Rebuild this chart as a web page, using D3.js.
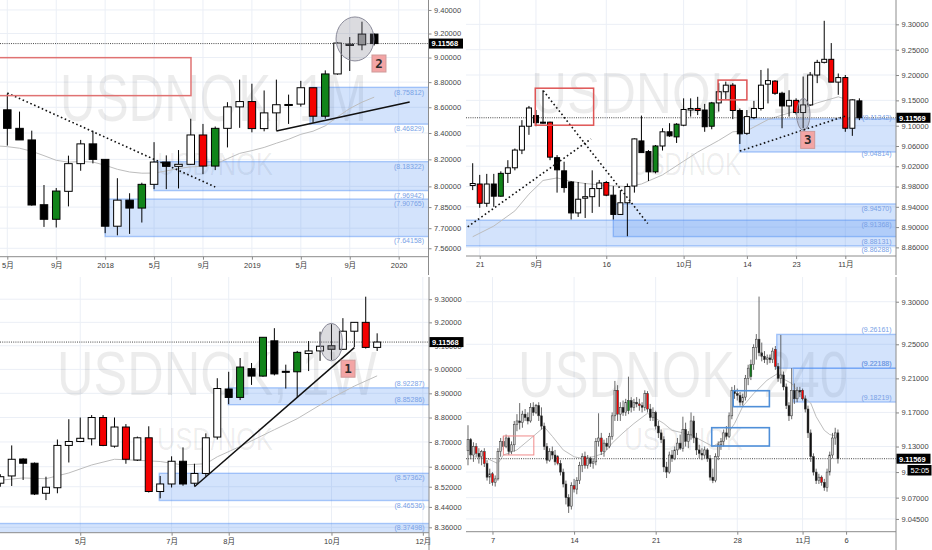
<!DOCTYPE html>
<html><head><meta charset="utf-8">
<script src="https://cdn.jsdelivr.net/npm/d3@7/dist/d3.min.js"></script>
<style>
html,body{margin:0;padding:0;background:#fff;overflow:hidden;}
svg{display:block;}
</style></head><body>
<svg id="chart" width="932" height="550"></svg>
<script>
// ================= DATA =================
// ---- Panel 1: USDNOK monthly, 2017-05 .. 2019-11 (index 0..30)
const p1Open  = [8.580,8.436,8.347,7.867,7.763,7.964,8.168,8.317,8.200,7.714,
                 7.900,7.843,8.015,8.180,8.148,8.163,8.385,8.150,8.436,8.603,
                 8.645,8.434,8.556,8.618,8.625,8.755,8.530,8.866,9.100,9.105,9.195];
const p1High  = [8.707,8.566,8.418,8.010,7.988,8.228,8.347,8.418,8.200,8.060,
                 7.950,8.027,8.330,8.230,8.270,8.510,8.470,8.450,8.640,8.820,
                 8.787,8.733,8.820,8.700,8.810,8.755,8.895,9.125,9.170,9.300,9.200];
const p1Low   = [8.304,8.347,7.860,7.709,7.705,7.855,8.115,8.170,7.665,7.650,
                 7.660,7.740,7.980,7.980,7.985,8.160,8.090,8.120,8.290,8.440,
                 8.405,8.413,8.418,8.470,8.605,8.480,8.510,8.860,8.890,9.060,9.100];
const p1Close = [8.436,8.347,7.865,7.763,7.966,8.168,8.317,8.200,7.714,7.900,
                 7.843,8.015,8.180,8.148,8.163,8.385,8.150,8.436,8.603,8.645,
                 8.434,8.556,8.620,8.622,8.755,8.530,8.866,9.120,9.110,9.195,9.1157];
const p1Red = [16,20,25], p1Green = [4,11,17,26], p1Gray = [28,29];
const p1MaIdx = [-0.6,0,1,2,3,4,5,6,7,8,9,10,11,12,13,14,15,16,17,18,19,20,21,22,23,24,25,26,27,28,29,30];
const p1MaVal = [8.300,8.296,8.284,8.261,8.228,8.193,8.179,8.184,8.180,8.156,8.126,8.106,8.097,8.098,8.114,8.132,
                 8.144,8.148,8.163,8.205,8.245,8.266,8.290,8.322,8.352,8.390,8.414,8.455,8.525,8.590,8.640,8.680];
const p1YTicks = [9.40,9.20,9.00,8.80,8.60,8.40,8.20,8.00,7.85,7.70,7.56];
const p1XTicks = [0,4,8,12,16,20,24,28,32];
const p1XLabels = ["5月","9月","2018","5月","9月","2019","5月","9月","2020"];
const p1Last = 9.11568;
const p1Zones = [[8.75812,8.46829,24.75],[8.18322,7.96942,12],[7.90765,7.64158,8]];

// ---- Panel 2: USDNOK daily, 2019-08-20 .. 2019-11-05 (index 0..55)
const p2Open  = [8.982,8.985,8.947,8.985,8.961,9.006,9.017,9.052,9.099,9.120,
                 9.107,9.107,9.037,9.011,8.989,8.928,8.957,8.960,8.976,8.988,
                 8.963,8.925,8.948,8.981,9.070,9.049,9.009,9.060,9.088,9.078,
                 9.101,9.131,9.134,9.131,9.099,9.145,9.167,9.180,9.130,9.085,
                 9.116,9.134,9.182,9.188,9.164,9.139,9.150,9.126,9.141,9.200,
                 9.225,9.231,9.186,9.195,9.095,9.149];
const p2High  = [9.026,9.003,9.005,9.005,9.010,9.032,9.055,9.111,9.139,9.131,
                 9.170,9.108,9.042,9.029,8.991,8.989,8.987,9.012,8.993,8.991,
                 8.981,8.973,8.986,9.075,9.120,9.052,9.062,9.095,9.105,9.105,
                 9.154,9.154,9.157,9.143,9.147,9.184,9.187,9.184,9.134,9.131,
                 9.149,9.210,9.213,9.190,9.167,9.170,9.154,9.197,9.206,9.230,
                 9.307,9.263,9.203,9.200,9.152,9.154];
const p2Low   = [8.973,8.938,8.940,8.940,8.960,8.987,9.012,9.044,9.082,9.099,
                 9.104,9.032,8.968,8.968,8.915,8.920,8.918,8.928,8.940,8.961,
                 8.915,8.924,8.882,8.968,9.047,8.991,9.006,9.051,9.078,9.066,
                 9.099,9.118,9.121,9.088,9.093,9.128,9.152,9.113,9.064,9.082,
                 9.113,9.130,9.144,9.161,9.095,9.118,9.122,9.095,9.139,9.184,
                 9.223,9.186,9.161,9.088,9.080,9.111];
const p2Close = [8.986,8.947,8.985,8.961,9.006,9.017,9.052,9.099,9.135,9.106,
                 9.105,9.038,9.013,8.978,8.928,8.955,8.960,8.976,8.987,8.963,
                 8.925,8.948,8.980,9.074,9.047,9.009,9.060,9.088,9.080,9.103,
                 9.132,9.134,9.130,9.098,9.145,9.167,9.180,9.130,9.084,9.118,
                 9.134,9.180,9.189,9.164,9.139,9.150,9.126,9.141,9.200,9.225,
                 9.231,9.186,9.195,9.095,9.151,9.1157];
const p2Red = [1,11,19,32,37,43,46,51,53], p2Green = [4,26,29,34], p2Gray = [];
const p2MaIdx = [0,3,6,8,10,12,14,16,19,22,24,27,30,32,35,37,39,42,44,46,49,52,54];
const p2MaVal = [8.881,8.902,8.932,8.965,8.992,8.997,8.990,8.986,8.982,8.980,8.985,9.003,9.030,9.048,
                 9.071,9.088,9.090,9.112,9.121,9.129,9.145,9.157,9.148];
const p2YTicks = [9.30,9.25,9.20,9.15,9.10,9.06,9.02,8.98,8.94,8.90,8.86];
const p2XTicks = [1,9,19,30,39,46,53];
const p2XLabels = ["21","9月","16","10月","14","23","11月"];
const p2Last = 9.11569;
const p2Zones = [[9.11342,9.04814,37.95],[8.94570,8.88131,20.0],[8.91368,8.86288,-2]];

// ---- Panel 3: USDNOK weekly, 2019-03-18 .. 2019-11-04 (index 0..33)
const p3Open  = [8.534,8.563,8.631,8.614,8.494,8.516,8.686,8.702,8.713,8.800,
                 8.683,8.761,8.627,8.717,8.501,8.531,8.622,8.534,8.573,8.720,
                 8.918,8.883,9.003,8.972,9.121,8.992,8.990,9.067,9.078,9.085,
                 9.085,9.162,9.200,9.093];
const p3High  = [8.570,8.686,8.634,8.617,8.560,8.710,8.793,8.800,8.810,8.810,
                 8.800,8.773,8.722,8.764,8.563,8.642,8.678,8.612,8.735,8.963,
                 8.990,9.048,9.027,9.136,9.175,9.020,9.078,9.120,9.160,9.192,
                 9.218,9.200,9.311,9.153];
const p3Low   = [8.520,8.523,8.547,8.487,8.467,8.494,8.617,8.699,8.686,8.683,
                 8.677,8.612,8.623,8.497,8.474,8.517,8.524,8.523,8.560,8.710,
                 8.855,8.872,8.935,8.969,8.975,8.920,8.882,8.993,9.036,9.040,
                 9.082,9.094,9.088,9.078];
const p3Close = [8.560,8.630,8.614,8.491,8.518,8.686,8.702,8.715,8.800,8.686,
                 8.761,8.630,8.717,8.501,8.531,8.622,8.531,8.573,8.717,8.920,
                 8.883,9.010,8.972,9.136,8.981,8.988,9.072,9.078,9.098,9.100,
                 9.162,9.200,9.093,9.1157];
const p3Red = [9,11,13,32], p3Green = [21,23,26], p3Gray = [29];
const p3MaIdx = [0,2,4,6,8,10,12,14,16,18,19,21,24,26,29,31,33];
const p3MaVal = [8.546,8.555,8.552,8.575,8.607,8.630,8.626,8.621,8.607,8.612,8.640,8.682,8.750,8.795,8.880,8.930,8.973];
const p3YTicks = [9.30,9.20,9.10,9.00,8.90,8.80,8.70,8.60,8.52,8.44,8.36];
const p3XTicks = [7,15,20,29,37];
const p3XLabels = ["5月","7月","8月","10月","12月"];
const p3Last = 9.11568;
const p3Zones = [[8.92287,8.85286,19.96],[8.57362,8.46536,13.92],[8.37498,8.20,-2]];

// ---- Panel 4: USDNOK 4-hour bars, ~2019-10-04 .. 2019-11-05 (index 0..136)
const p4Open  = [9.125,9.138,9.120,9.130,9.122,9.118,9.124,9.110,9.094,9.098,
                 9.088,9.092,9.124,9.136,9.130,9.140,9.124,9.132,9.156,9.160,
                 9.158,9.168,9.164,9.160,9.176,9.170,9.178,9.166,9.154,9.130,
                 9.114,9.124,9.120,9.118,9.110,9.100,9.086,9.070,9.060,9.084,
                 9.080,9.090,9.108,9.118,9.108,9.116,9.110,9.112,9.136,9.140,
                 9.124,9.134,9.130,9.142,9.166,9.196,9.168,9.176,9.170,9.172,
                 9.184,9.176,9.182,9.180,9.178,9.176,9.192,9.174,9.164,9.170,
                 9.154,9.146,9.138,9.106,9.100,9.120,9.116,9.126,9.134,9.128,
                 9.150,9.136,9.144,9.160,9.140,9.126,9.122,9.120,9.126,9.116,
                 9.094,9.090,9.118,9.132,9.136,9.146,9.142,9.166,9.196,9.192,
                 9.190,9.182,9.188,9.210,9.212,9.226,9.246,9.256,9.240,9.236,
                 9.232,9.234,9.232,9.244,9.224,9.210,9.214,9.200,9.178,9.166,
                 9.196,9.186,9.196,9.196,9.186,9.174,9.146,9.118,9.100,9.090,
                 9.094,9.088,9.082,9.100,9.120,9.140,9.146];
const p4High  = [9.155,9.140,9.135,9.134,9.128,9.126,9.128,9.114,9.104,9.100,
                 9.096,9.128,9.140,9.142,9.144,9.142,9.136,9.160,9.168,9.181,
                 9.172,9.174,9.170,9.181,9.182,9.180,9.182,9.176,9.158,9.134,
                 9.128,9.130,9.126,9.120,9.114,9.104,9.090,9.074,9.088,9.092,
                 9.094,9.112,9.122,9.124,9.120,9.118,9.116,9.140,9.169,9.146,
                 9.138,9.140,9.146,9.170,9.207,9.202,9.182,9.184,9.186,9.212,
                 9.188,9.186,9.188,9.186,9.182,9.196,9.195,9.180,9.176,9.172,
                 9.160,9.150,9.142,9.112,9.124,9.126,9.130,9.140,9.144,9.165,
                 9.158,9.148,9.170,9.166,9.146,9.132,9.128,9.130,9.128,9.120,
                 9.104,9.122,9.136,9.140,9.150,9.154,9.170,9.200,9.202,9.198,
                 9.194,9.192,9.214,9.226,9.232,9.250,9.262,9.306,9.252,9.242,
                 9.238,9.238,9.246,9.248,9.228,9.261,9.218,9.204,9.182,9.222,
                 9.204,9.200,9.200,9.198,9.190,9.178,9.150,9.122,9.104,9.098,
                 9.096,9.092,9.104,9.124,9.146,9.152,9.150];
const p4Low   = [9.108,9.115,9.112,9.118,9.110,9.108,9.106,9.090,9.086,9.084,
                 9.083,9.090,9.118,9.126,9.128,9.120,9.121,9.124,9.148,9.150,
                 9.152,9.160,9.156,9.158,9.166,9.168,9.160,9.150,9.126,9.110,
                 9.112,9.116,9.108,9.108,9.096,9.082,9.062,9.052,9.056,9.076,
                 9.074,9.086,9.100,9.104,9.104,9.106,9.104,9.108,9.130,9.120,
                 9.118,9.126,9.128,9.138,9.160,9.160,9.160,9.166,9.166,9.168,
                 9.170,9.172,9.176,9.172,9.170,9.172,9.170,9.160,9.160,9.150,
                 9.140,9.134,9.100,9.093,9.098,9.112,9.114,9.120,9.126,9.124,
                 9.130,9.128,9.138,9.134,9.120,9.116,9.114,9.116,9.112,9.090,
                 9.087,9.088,9.114,9.126,9.130,9.138,9.140,9.162,9.186,9.184,
                 9.178,9.178,9.184,9.202,9.208,9.220,9.232,9.236,9.230,9.228,
                 9.226,9.228,9.228,9.220,9.206,9.204,9.196,9.174,9.160,9.162,
                 9.180,9.182,9.188,9.184,9.170,9.140,9.112,9.096,9.086,9.086,
                 9.084,9.078,9.077,9.096,9.116,9.132,9.110];
const p4Close = [9.138,9.120,9.130,9.122,9.118,9.124,9.110,9.094,9.098,9.088,
                 9.092,9.124,9.136,9.130,9.140,9.124,9.132,9.156,9.160,9.158,
                 9.168,9.164,9.160,9.176,9.170,9.178,9.166,9.154,9.130,9.114,
                 9.124,9.120,9.112,9.110,9.100,9.086,9.070,9.060,9.084,9.080,
                 9.090,9.108,9.118,9.108,9.116,9.110,9.112,9.136,9.140,9.124,
                 9.134,9.130,9.142,9.166,9.196,9.168,9.176,9.170,9.182,9.184,
                 9.176,9.182,9.180,9.178,9.176,9.192,9.174,9.164,9.170,9.154,
                 9.146,9.138,9.106,9.100,9.120,9.116,9.126,9.134,9.128,9.150,
                 9.136,9.144,9.160,9.140,9.126,9.122,9.120,9.126,9.116,9.094,
                 9.090,9.118,9.132,9.136,9.146,9.142,9.166,9.196,9.192,9.190,
                 9.182,9.188,9.210,9.222,9.226,9.246,9.256,9.240,9.236,9.232,
                 9.234,9.232,9.242,9.224,9.210,9.214,9.200,9.178,9.166,9.196,
                 9.186,9.196,9.194,9.186,9.174,9.146,9.118,9.100,9.090,9.094,
                 9.088,9.082,9.100,9.120,9.140,9.146,9.1157];
const p4Red = [3,6,9,33,39,43,49,55,63,66,113,123,130], p4Green = [59,104], p4Gray = [];
const p4MaIdx = [2,7,11,13,18,24,28,31,35,39,42,46,50,53,57,61,66,68,72,75,79,83,90,94,98,101,105,110,114,115,119,122,126,128,131,133,136];
const p4MaVal = [9.118,9.116,9.110,9.120,9.126,9.142,9.153,9.142,9.126,9.118,9.116,9.118,9.122,9.134,9.146,9.157,
                 9.169,9.165,9.157,9.149,9.146,9.142,9.130,9.138,9.157,9.177,9.192,9.208,9.216,9.211,9.204,9.192,
                 9.181,9.165,9.149,9.144,9.142];
const p4YTicks = [9.30,9.25,9.21,9.17,9.13,9.10,9.07,9.045];
const p4XTicks = [9,39,69,99,123,139];
const p4XLabels = ["7","14","21","28","11月","6"];
const p4Last = 9.11569;
const p4Zones = [[9.26161,9.22188,113.5],[9.22188,9.18219,119.6]];

// ================= DRAWING =================
const FONT = '"Liberation Sans","Noto Sans CJK SC",Arial,sans-serif';
const svg = d3.select("#chart");
svg.append("rect").attr("width", 932).attr("height", 550).attr("fill", "#fff");
const fmt5 = d3.format(".5f");

function drawPanel(P) {
  const root = svg.append("g");
  const cid = "clip-" + P.id;
  root.append("clipPath").attr("id", cid).append("rect")
    .attr("x", P.left).attr("y", P.top)
    .attr("width", P.right - P.left).attr("height", P.bottom - P.top);
  const g = root.append("g").attr("clip-path", `url(#${cid})`);

  // grid
  g.selectAll(null).data(P.yTicks).join("line")
    .attr("x1", P.left).attr("x2", P.right)
    .attr("y1", d => P.y(d)).attr("y2", d => P.y(d))
    .attr("stroke", "#ebeff6").attr("stroke-width", 1);
  g.selectAll(null).data(P.xTicks).join("line")
    .attr("x1", d => P.x(d)).attr("x2", d => P.x(d))
    .attr("y1", P.top).attr("y2", P.bottom)
    .attr("stroke", "#ebeff6").attr("stroke-width", 1);

  // watermark
  P.watermark.forEach(w => {
    g.append("text").attr("x", w.x).attr("y", w.y)
      .attr("font-size", w.size).attr("font-family", FONT)
      .attr("textLength", w.len).attr("lengthAdjust", "spacingAndGlyphs")
      .attr("fill", "#000").attr("fill-opacity", 0.075).text(w.text);
  });

  // zones
  P.zones.forEach(z => {
    const x0 = P.x(z[2]);
    g.append("rect").attr("x", x0).attr("y", P.y(z[0]))
      .attr("width", P.right - x0 + 5).attr("height", P.y(z[1]) - P.y(z[0]))
      .attr("fill", "rgba(66,133,244,0.23)")
      .attr("stroke", "rgba(66,133,244,0.42)").attr("stroke-width", 1.4);
  });

  // moving average
  const ma = d3.zip(P.maIdx, P.maVal);
  g.append("path").datum(ma)
    .attr("d", d3.line().x(d => P.x(d[0])).y(d => P.y(d[1])))
    .attr("fill", "none").attr("stroke", "#bdbdbd").attr("stroke-width", 1);

  // last price line
  g.append("line").attr("x1", P.left).attr("x2", P.right)
    .attr("y1", P.y(P.last)).attr("y2", P.y(P.last))
    .attr("stroke", "#333").attr("stroke-width", 0.9).attr("stroke-dasharray", "1,1.2");

  // candles
  const idx = d3.range(P.open.length);
  const mark = i => P.red.includes(i) ? "r" : P.green.includes(i) ? "g" : P.gray.includes(i) ? "e" : "";
  const fillOf = i => {
    const m = mark(i);
    if (m === "r") return "#f40000";
    if (m === "g") return "#11841a";
    if (m === "e") return "#9a9a9a";
    return P.close[i] >= P.open[i] ? P.bullFill : P.bearFill;
  };
  g.selectAll(null).data(idx).join("line")
    .attr("x1", i => P.x(i)).attr("x2", i => P.x(i))
    .attr("y1", i => P.y(P.high[i])).attr("y2", i => P.y(P.low[i]))
    .attr("stroke", P.wickColor).attr("stroke-width", P.wickW);
  g.selectAll(null).data(idx).join("rect")
    .attr("x", i => P.x(i) - P.bodyW / 2)
    .attr("y", i => P.y(Math.max(P.open[i], P.close[i])))
    .attr("width", P.bodyW)
    .attr("height", i => Math.max(1, Math.abs(P.y(P.open[i]) - P.y(P.close[i]))))
    .attr("fill", fillOf)
    .attr("stroke", P.bodyStroke).attr("stroke-width", P.bodyStrokeW);

  // ellipse highlight
  if (P.ellipse) {
    const e = P.ellipse;
    g.append("ellipse").attr("cx", P.x(e.idx))
      .attr("cy", (P.y(e.top) + P.y(e.bottom)) / 2)
      .attr("rx", P.x(e.idx + e.half) - P.x(e.idx))
      .attr("ry", (P.y(e.bottom) - P.y(e.top)) / 2)
      .attr("fill", "rgba(125,125,140,0.28)").attr("stroke", "#8a8a99").attr("stroke-width", 1);
  }

  // trend lines
  (P.lines || []).forEach(l => {
    g.append("line").attr("x1", P.x(l.a[0])).attr("y1", P.y(l.a[1]))
      .attr("x2", P.x(l.b[0])).attr("y2", P.y(l.b[1]))
      .attr("stroke", "#111").attr("stroke-width", l.dotted ? 1.6 : 1.5)
      .attr("stroke-dasharray", l.dotted ? "1.6,2.6" : null);
  });

  // rectangles
  (P.rects || []).forEach(r => {
    g.append("rect").attr("x", P.x(r.i0)).attr("y", P.y(r.p0))
      .attr("width", P.x(r.i1) - P.x(r.i0)).attr("height", P.y(r.p1) - P.y(r.p0))
      .attr("fill", "none").attr("stroke", r.color).attr("stroke-width", r.w);
  });

  // badge
  if (P.badge) {
    const b = P.badge, cx = P.x(b.idx), cy = P.y(b.price);
    g.append("rect").attr("x", cx - 7).attr("y", cy - 8.5).attr("width", 14).attr("height", 17)
      .attr("fill", "#f3a5a5").attr("stroke", "#cf9a9a").attr("stroke-width", 1);
    g.append("text").attr("x", cx).attr("y", cy + 4.5).attr("text-anchor", "middle")
      .attr("font-size", 12.5).attr("font-weight", "bold").attr("font-family", "DejaVu Sans Mono, monospace")
      .attr("fill", "#2a2a2a").text(b.text);
  }

  // zone labels
  P.zoneLabels.forEach(zl => {
    g.append("text").attr("x", P.right - 4.5).attr("y", P.y(zl.v) + zl.dy)
      .attr("text-anchor", "end").attr("font-size", 7).attr("font-family", FONT)
      .attr("fill", "#78a1e6").text("(" + fmt5(zl.v) + ")");
  });

  // right axis
  const ya = d3.axisRight(P.y).tickValues(P.yTicks).tickFormat(fmt5)
    .tickSize(3).tickSizeOuter(0).tickPadding(2.5);
  const yg = root.append("g").attr("transform", `translate(${P.right},0)`).call(ya);
  yg.select(".domain").remove();
  yg.selectAll(".tick line").attr("stroke", "#888");
  yg.selectAll(".tick text").attr("font-size", 7.5).attr("font-family", FONT).attr("fill", "#474747");

  // bottom axis
  const xa = d3.axisBottom(P.x).tickValues(P.xTicks).tickFormat((d, i) => P.xLabels[i])
    .tickSize(3).tickSizeOuter(0).tickPadding(3);
  const xg = root.append("g").attr("transform", `translate(0,${P.bottom})`).call(xa);
  xg.select(".domain").remove();
  xg.selectAll(".tick line").attr("stroke", "#888");
  xg.selectAll(".tick text").attr("font-size", 7.5).attr("font-family", FONT).attr("fill", "#3a3a3a");

  // axis lines
  root.append("line").attr("x1", P.right).attr("x2", P.right).attr("y1", P.top).attr("y2", P.axisEnd)
    .attr("stroke", "#8c8c8c").attr("stroke-width", 1);
  root.append("line").attr("x1", P.left).attr("x2", P.right).attr("y1", P.bottom).attr("y2", P.bottom)
    .attr("stroke", "#8c8c8c").attr("stroke-width", 1);

  // price box
  const py = P.y(P.last);
  root.append("rect").attr("x", P.right + 0.5).attr("y", py - 5).attr("width", 34).attr("height", 10)
    .attr("fill", "#000");
  root.append("text").attr("x", P.right + 3).attr("y", py + 2.8)
    .attr("font-size", 7.5).attr("font-weight", "bold").attr("font-family", FONT)
    .attr("fill", "#fff").text(fmt5(P.last));
  if (P.countdown) {
    root.append("rect").attr("x", P.right + 11.5).attr("y", py + 6.3).attr("width", 24).attr("height", 10.5)
      .attr("fill", "#000");
    root.append("text").attr("x", P.right + 14.5).attr("y", py + 14.2)
      .attr("font-size", 7.5).attr("font-family", FONT).attr("fill", "#fff").text(P.countdown);
  }
}

// ---------- Panel 1 (monthly) ----------
const p1x = d3.scaleLinear().domain([-0.597, 34.44]).range([0, 428.5]);
const p1y = d3.scaleLog().domain([7.502, 9.486]).range([256.7, 0]);
drawPanel({
  id: "p1", x: p1x, y: p1y, left: 0, right: 428.5, top: 0, bottom: 256.7, axisEnd: 275,
  open: p1Open, high: p1High, low: p1Low, close: p1Close,
  red: p1Red, green: p1Green, gray: p1Gray,
  bullFill: "#fff", bearFill: "#000", wickColor: "#000", wickW: 1, bodyW: 7.5, bodyStroke: "#000", bodyStrokeW: 1,
  maIdx: p1MaIdx, maVal: p1MaVal, yTicks: p1YTicks, xTicks: p1XTicks, xLabels: p1XLabels, last: p1Last,
  zones: p1Zones,
  zoneLabels: [{v:8.75812,dy:7.5},{v:8.46829,dy:7.3},{v:8.18322,dy:7.5},{v:7.96942,dy:7},{v:7.90765,dy:6.8},{v:7.64158,dy:6.8}],
  watermark: [{text:"USDNOK, 1M", x:60, y:121, size:66, len:307},{text:"USD/NOK", x:157, y:175, size:32, len:116}],
  ellipse: {idx: 28.43, half: 1.55, top: 9.34, bottom: 8.972},
  lines: [{a:[0,8.713], b:[17,7.996], dotted:true},{a:[22,8.416], b:[32.9,8.642], dotted:false}],
  rects: [{i0:-2, i1:15.02, p0:8.999, p1:8.692, color:"#e07272", w:1.5}],
  badge: {idx: 30.39, price: 8.951, text: "2"}
});

// ---------- Panel 2 (daily) ----------
const p2x = d3.scaleLinear().domain([-0.953, 60.21]).range([466, 896]);
const p2y = d3.scaleLinear().domain([8.843, 9.348]).range([256, 0]);
drawPanel({
  id: "p2", x: p2x, y: p2y, left: 466, right: 896, top: 0, bottom: 256, axisEnd: 275,
  open: p2Open, high: p2High, low: p2Low, close: p2Close,
  red: p2Red, green: p2Green, gray: p2Gray,
  bullFill: "#fff", bearFill: "#000", wickColor: "#000", wickW: 1, bodyW: 5, bodyStroke: "#000", bodyStrokeW: 1,
  maIdx: p2MaIdx, maVal: p2MaVal, yTicks: p2YTicks, xTicks: p2XTicks, xLabels: p2XLabels, last: p2Last,
  zones: p2Zones,
  zoneLabels: [{v:9.11342,dy:1},{v:9.04814,dy:3.5},{v:8.94570,dy:7},{v:8.91368,dy:7},{v:8.88131,dy:7},{v:8.86288,dy:6.5}],
  watermark: [{text:"USDNOK, 1D", x:531, y:113, size:58, len:304},{text:"USD/NOK", x:631, y:175, size:32, len:110}],
  ellipse: {idx: 47.03, half: 0.95, top: 9.154, bottom: 9.091},
  lines: [{a:[10.04,9.169], b:[24.9,8.907], dotted:true},
          {a:[-0.71,8.9006], b:[16.83,9.074], dotted:true},
          {a:[38.0,9.050], b:[53.2,9.120], dotted:true}],
  rects: [{i0:8.9, i1:17.2, p0:9.174, p1:9.101, color:"#df5555", w:1.5},
          {i0:34.9, i1:39.0, p0:9.190, p1:9.151, color:"#df5555", w:1.5}],
  badge: {idx: 47.65, price: 9.072, text: "3"}
});

// ---------- Panel 3 (weekly) ----------
const p3x = d3.scaleLinear().domain([-0.026, 37.54]).range([0, 429]);
const p3y = d3.scaleLog().domain([8.339, 9.397]).range([532.7, 277]);
drawPanel({
  id: "p3", x: p3x, y: p3y, left: 0, right: 429, top: 277, bottom: 532.7, axisEnd: 550,
  open: p3Open, high: p3High, low: p3Low, close: p3Close,
  red: p3Red, green: p3Green, gray: p3Gray,
  bullFill: "#fff", bearFill: "#000", wickColor: "#000", wickW: 1, bodyW: 7, bodyStroke: "#000", bodyStrokeW: 1,
  maIdx: p3MaIdx, maVal: p3MaVal, yTicks: p3YTicks, xTicks: p3XTicks, xLabels: p3XLabels, last: p3Last,
  zones: p3Zones,
  zoneLabels: [{v:8.92287,dy:-2},{v:8.85286,dy:-2.2},{v:8.57362,dy:7},{v:8.46536,dy:7},{v:8.37498,dy:6.5}],
  watermark: [{text:"USDNOK, 1W", x:57, y:395, size:63, len:320},{text:"USD/NOK", x:157, y:450, size:32, len:116}],
  ellipse: {idx: 28.98, half: 0.99, top: 9.196, bottom: 9.036},
  lines: [{a:[17.0,8.52], b:[31.0,9.092], dotted:false}],
  rects: [],
  badge: {idx: 30.45, price: 9.003, text: "1"}
});

// ---------- Panel 4 (4 hours) ----------
const p4x = d3.scaleLinear().domain([-0.735, 157.35]).range([466, 896]);
const p4y = d3.scaleLinear().domain([9.030, 9.329]).range([531.7, 277]);
drawPanel({
  id: "p4", x: p4x, y: p4y, left: 466, right: 896, top: 277, bottom: 531.7, axisEnd: 550,
  open: p4Open, high: p4High, low: p4Low, close: p4Close,
  red: p4Red, green: p4Green, gray: p4Gray,
  bullFill: "#cfcfcf", bearFill: "#111", wickColor: "#444", wickW: 0.8, bodyW: 1.9, bodyStroke: "#333", bodyStrokeW: 0.5,
  maIdx: p4MaIdx, maVal: p4MaVal, yTicks: p4YTicks, xTicks: p4XTicks, xLabels: p4XLabels, last: p4Last,
  zones: p4Zones,
  zoneLabels: [{v:9.26161,dy:-2},{v:9.22188,dy:-2},{v:9.22188,dy:-2},{v:9.18219,dy:-2}],
  watermark: [{text:"USDNOK, 240", x:518, y:397, size:64, len:330},{text:"USD/NOK", x:624, y:450, size:32, len:119}],
  ellipse: null,
  lines: [],
  rects: [{i0:13.0, i1:24.2, p0:9.1424, p1:9.1201, color:"#f08a8a", w:1},
          {i0:97.5, i1:110.8, p0:9.1955, p1:9.1768, color:"#4f8fd8", w:1.6},
          {i0:89.6, i1:110.8, p0:9.1521, p1:9.1306, color:"#4f8fd8", w:1.6}],
  badge: null,
  countdown: "52:05"
});
</script>
</body></html>
